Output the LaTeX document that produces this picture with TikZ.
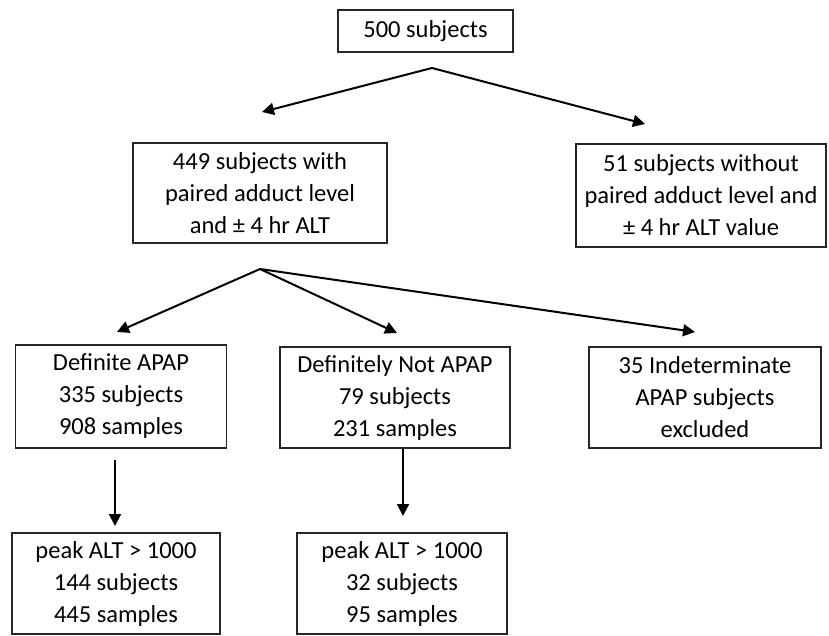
\documentclass[tikz,border=0pt]{standalone}
\usepackage{fontspec}
\setmainfont{Carlito}
\usetikzlibrary{arrows.meta}
\begin{document}
\begin{tikzpicture}[x=1pt,y=-1pt,
  box/.style={draw=black!85,line width=1.3pt,align=center,inner sep=0pt,
    font=\fontsize{24.5}{32}\selectfont},
  tall/.style={execute at begin node={\rule{0pt}{24.5pt}}},
  arr/.style={line width=2pt,-{Triangle[length=12pt,width=12pt]}}]
\useasboundingbox (0,0) rectangle (829,636);
\node[box,minimum width=175pt,minimum height=42pt] (top) at (425.5,31) {500 subjects};
\node[box,tall,minimum width=254pt,minimum height=100pt] (b449) at (260,193) {449 subjects with\\paired adduct level\\and ± 4 hr ALT};
\node[box,tall,minimum width=250pt,minimum height=103pt] (b51) at (701,195.5) {51 subjects without\\paired adduct level and\\± 4 hr ALT value};
\node[box,tall,minimum width=211pt,minimum height=103pt] (def) at (121,396.5) {Definite APAP\\335 subjects\\908 samples};
\node[box,tall,minimum width=230pt,minimum height=101pt] (notapap) at (395,397.5) {Definitely Not APAP\\79 subjects\\231 samples};
\node[box,tall,minimum width=232pt,minimum height=101pt] (indet) at (705,397.5) {35 Indeterminate\\APAP subjects\\excluded};
\node[box,tall,minimum width=208pt,minimum height=101pt] (peak1) at (116,583.5) {peak ALT > 1000\\144 subjects\\445 samples};
\node[box,tall,minimum width=210pt,minimum height=101pt] (peak2) at (402,583.5) {peak ALT > 1000\\32 subjects\\95 samples};
\coordinate (s1) at (432,68);
\coordinate (e1a) at (262,112);
\coordinate (e1b) at (645,124);
\coordinate (s2) at (260,269);
\coordinate (e2a) at (117,332);
\coordinate (e2b) at (397,333);
\coordinate (e2c) at (695,332);
\coordinate (s3) at (115,460);
\coordinate (e3) at (115,526);
\coordinate (e4) at (403,516);
\draw[arr] (s1) -- (e1a);
\draw[arr] (s1) -- (e1b);
\draw[arr] (s2) -- (e2a);
\draw[arr] (s2) -- (e2b);
\draw[arr] (s2) -- (e2c);
\draw[arr] (s3) -- (e3);
\draw[arr] (notapap.south -| e4) -- (e4);
\end{tikzpicture}
\end{document}
